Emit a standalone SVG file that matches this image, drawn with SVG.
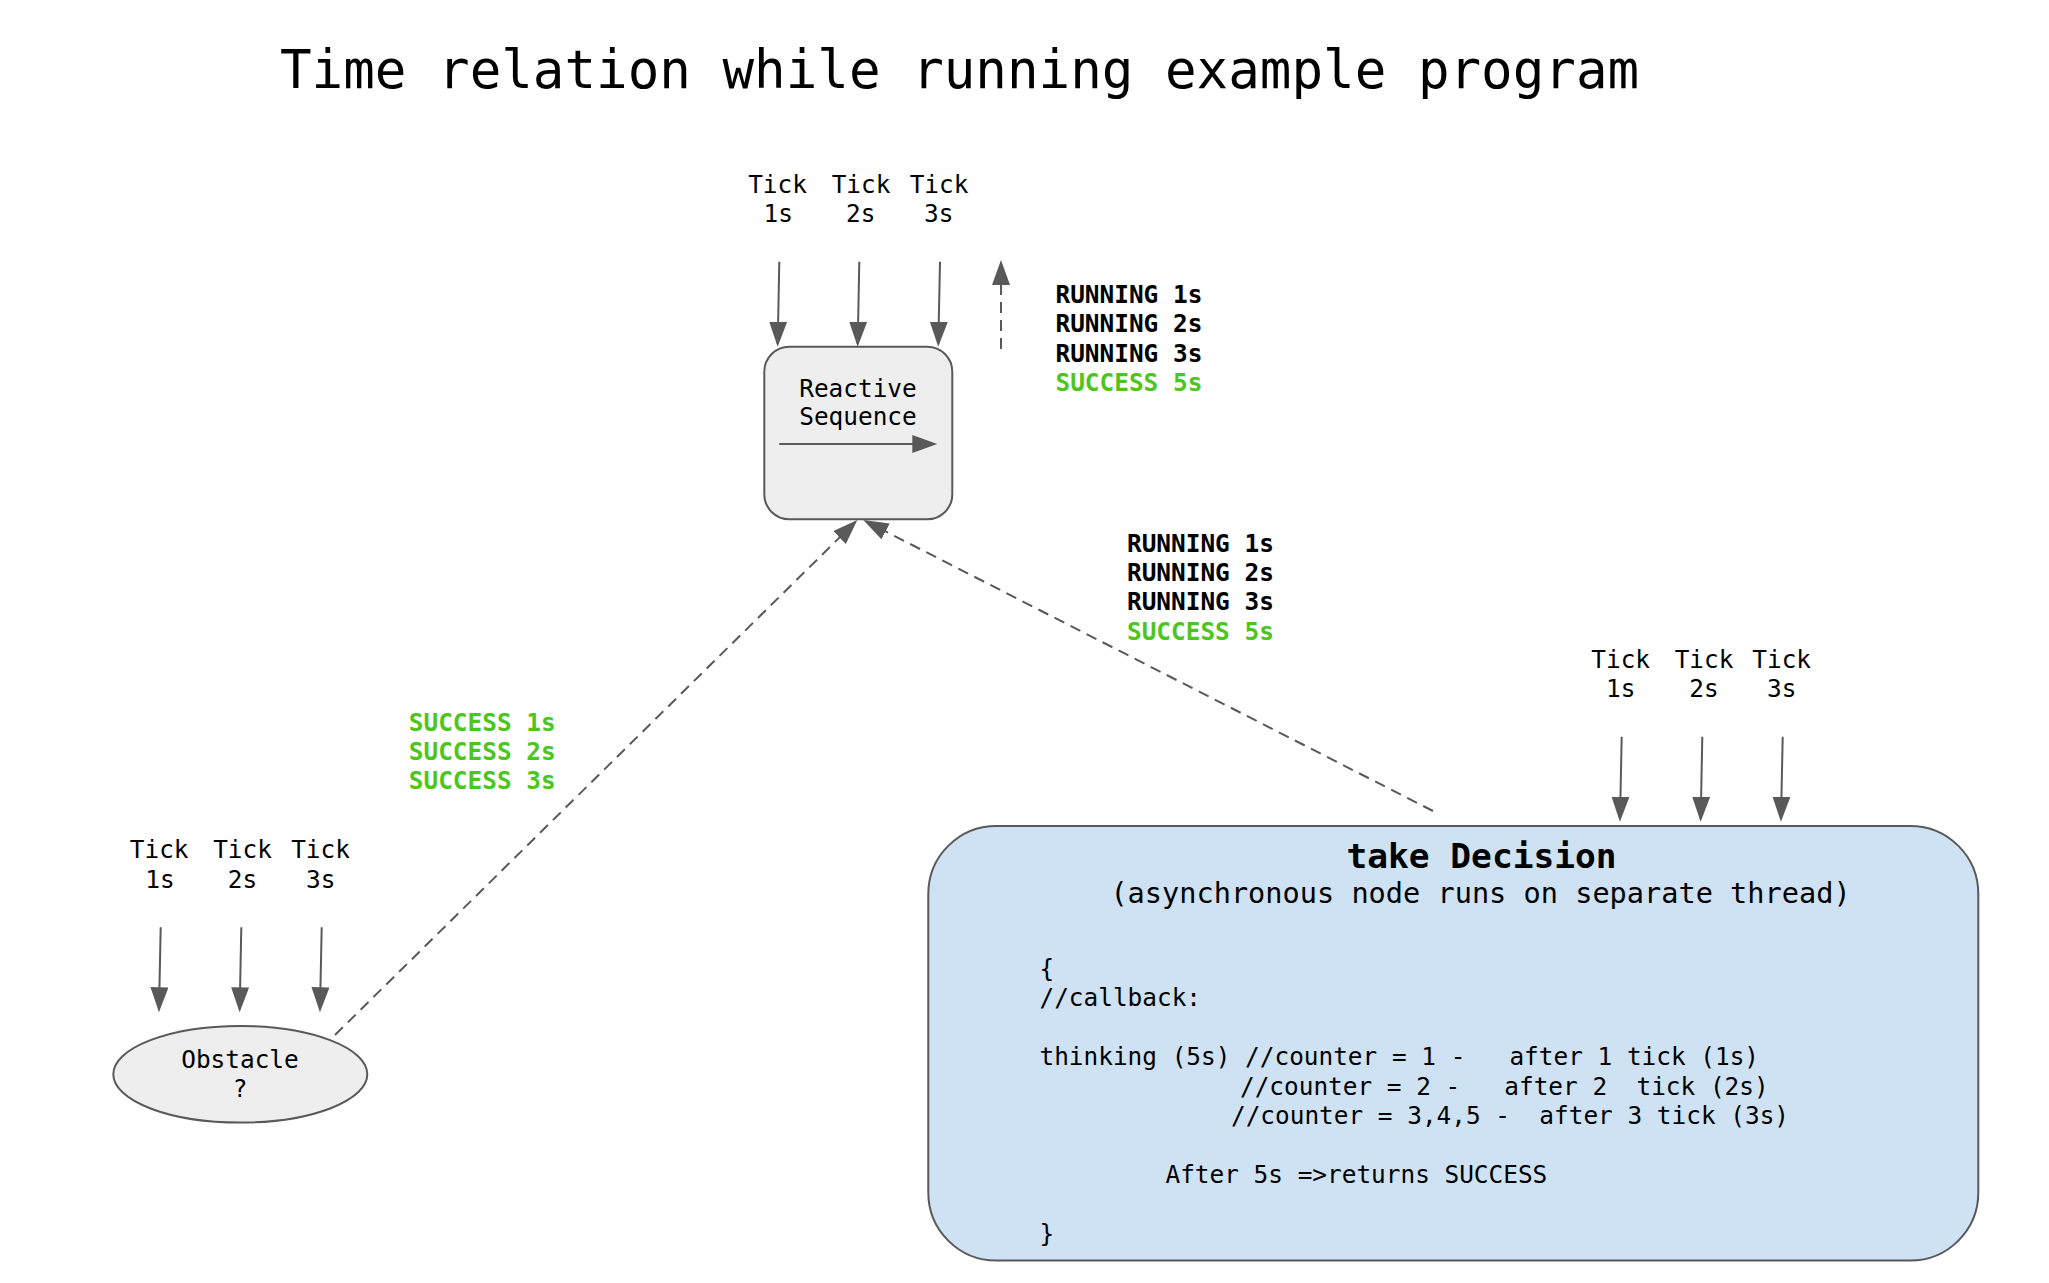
<svg xmlns="http://www.w3.org/2000/svg" width="2049" height="1283" viewBox="0 0 2049 1283">
<style>
  text { font-family: "DejaVu Sans Mono", "Liberation Mono", monospace; fill: #000000; }
  .title { font-size: 52.5px; }
  .lbl { font-size: 24.4px; text-anchor: middle; }
  .st { font-size: 24.4px; font-weight: bold; }
  .green { fill: #4cc61e; }
  .code { font-size: 24.4px; }
  .hd { font-size: 34.5px; font-weight: bold; text-anchor: middle; }
  .sub { font-size: 28.6px; text-anchor: middle; }
  .solid { stroke: #595959; stroke-width: 2; fill: none; }
  .dash { stroke: #595959; stroke-width: 2; fill: none; stroke-dasharray: 11 7; }
  .box { stroke: #595959; stroke-width: 2; }
</style>
<defs>
  <marker id="ah" markerUnits="userSpaceOnUse" markerWidth="26" markerHeight="20" refX="22" refY="9" orient="auto" viewBox="0 0 26 20">
    <path d="M0,0 L25,9 L0,18 z" fill="#595959" stroke="none"/>
  </marker>
</defs>
<rect x="0" y="0" width="2049" height="1283" fill="#ffffff"/>

<text class="title" x="280" y="88.3">Time relation while running example program</text>

<g id="reactive-sequence">
  <rect class="box" x="764.3" y="346.7" width="188" height="172.6" rx="25" ry="25" fill="#eeeeee"/>
  <text class="lbl" x="858" y="396.7">Reactive</text>
  <text class="lbl" x="858" y="425">Sequence</text>
  <line class="solid" x1="779.3" y1="444" x2="934.3" y2="444" marker-end="url(#ah)"/>
</g>

<g id="obstacle">
  <ellipse class="box" cx="240.3" cy="1074.3" rx="127" ry="48.3" fill="#eeeeee"/>
  <text class="lbl" x="240" y="1068.3">Obstacle</text>
  <text class="lbl" x="240" y="1096.7">?</text>
</g>

<g id="take-decision">
  <rect class="box" x="928.3" y="826" width="1050" height="434.5" rx="68" ry="68" fill="#cfe2f3"/>
  <text class="hd" x="1481.5" y="868.3">take Decision</text>
  <text class="sub" x="1480.5" y="903.3">(asynchronous node runs on separate thread)</text>
  <text class="code" x="1039.5" y="976.5">{</text>
  <text class="code" x="1039.5" y="1006">//callback:</text>
  <text class="code" xml:space="preserve" x="1039.5" y="1065">thinking (5s) //counter = 1 -   after 1 tick (1s)</text>
  <text class="code" xml:space="preserve" x="1240" y="1094.5">//counter = 2 -   after 2  tick (2s)</text>
  <text class="code" xml:space="preserve" x="1231" y="1124">//counter = 3,4,5 -  after 3 tick (3s)</text>
  <text class="code" xml:space="preserve" x="1165.5" y="1183">After 5s =&gt;returns SUCCESS</text>
  <text class="code" x="1039.5" y="1242">}</text>
</g>

<g id="tick-labels-top">
  <text class="lbl" x="777.5" y="193">Tick</text><text class="lbl" x="778.3" y="222">1s</text>
  <text class="lbl" x="861" y="193">Tick</text><text class="lbl" x="860.8" y="222">2s</text>
  <text class="lbl" x="939" y="193">Tick</text><text class="lbl" x="938.7" y="222">3s</text>
</g>

<g id="tick-labels-obstacle">
  <text class="lbl" x="159.2" y="857.7">Tick</text><text class="lbl" x="160" y="887.5">1s</text>
  <text class="lbl" x="242.5" y="857.7">Tick</text><text class="lbl" x="242.5" y="887.5">2s</text>
  <text class="lbl" x="320.5" y="857.7">Tick</text><text class="lbl" x="320.7" y="887.5">3s</text>
</g>

<g id="tick-labels-decision">
  <text class="lbl" x="1620.7" y="667.7">Tick</text><text class="lbl" x="1620.7" y="696.7">1s</text>
  <text class="lbl" x="1704" y="667.7">Tick</text><text class="lbl" x="1704" y="696.7">2s</text>
  <text class="lbl" x="1781.7" y="667.7">Tick</text><text class="lbl" x="1781.7" y="696.7">3s</text>
</g>

<g id="status-top">
  <text class="st" x="1055.5" y="302.7">RUNNING 1s</text>
  <text class="st" x="1055.5" y="332.2">RUNNING 2s</text>
  <text class="st" x="1055.5" y="361.7">RUNNING 3s</text>
  <text class="st green" x="1055.5" y="391">SUCCESS 5s</text>
</g>

<g id="status-decision">
  <text class="st" x="1127" y="551.7">RUNNING 1s</text>
  <text class="st" x="1127" y="581">RUNNING 2s</text>
  <text class="st" x="1127" y="610.3">RUNNING 3s</text>
  <text class="st green" x="1127" y="639.5">SUCCESS 5s</text>
</g>

<g id="status-obstacle">
  <text class="st green" x="408.8" y="730.7">SUCCESS 1s</text>
  <text class="st green" x="408.8" y="760">SUCCESS 2s</text>
  <text class="st green" x="408.8" y="789.3">SUCCESS 3s</text>
</g>

<g id="connectors">
  <line class="solid" x1="779.3" y1="261.7" x2="777.7" y2="343.7" marker-end="url(#ah)"/>
  <line class="solid" x1="859.3" y1="261.7" x2="857.7" y2="343.7" marker-end="url(#ah)"/>
  <line class="solid" x1="940" y1="261.7" x2="938.3" y2="343.7" marker-end="url(#ah)"/>
  <line class="dash" x1="1001" y1="349" x2="1001" y2="263" marker-end="url(#ah)"/>

  <line class="solid" x1="160.7" y1="927.3" x2="159" y2="1009.3" marker-end="url(#ah)"/>
  <line class="solid" x1="241.3" y1="927.3" x2="239.7" y2="1009.3" marker-end="url(#ah)"/>
  <line class="solid" x1="321.7" y1="927.3" x2="320" y2="1009.3" marker-end="url(#ah)"/>

  <line class="solid" x1="1621.7" y1="736.7" x2="1620" y2="818.7" marker-end="url(#ah)"/>
  <line class="solid" x1="1702.3" y1="736.7" x2="1700.7" y2="818.7" marker-end="url(#ah)"/>
  <line class="solid" x1="1782.7" y1="736.7" x2="1781" y2="818.7" marker-end="url(#ah)"/>

  <line class="dash" x1="335" y1="1035" x2="855.2" y2="522.1" marker-end="url(#ah)"/>
  <line class="dash" x1="1433" y1="811" x2="866" y2="521.4" marker-end="url(#ah)"/>
</g>
</svg>
